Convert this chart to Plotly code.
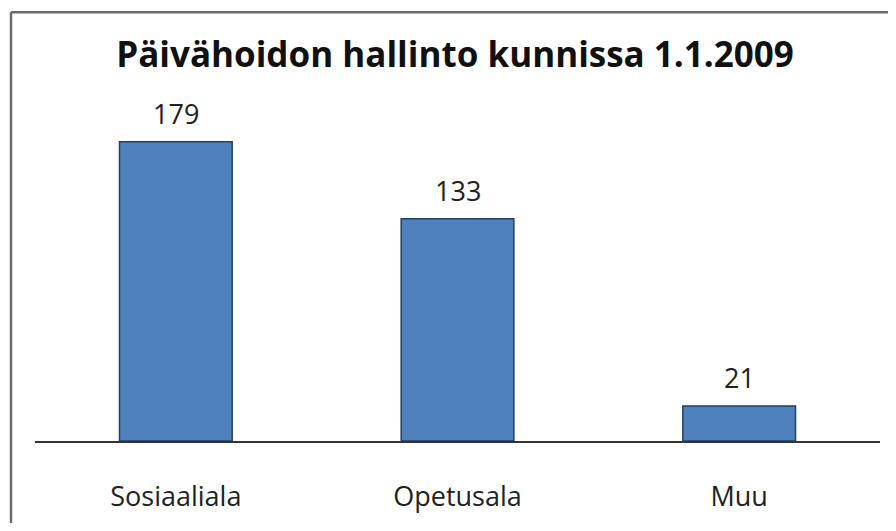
import plotly.graph_objects as go

categories = ["Sosiaaliala", "Opetusala", "Muu"]
values = [179, 133, 21]
title_text = "Päivähoidon hallinto kunnissa 1.1.2009"

FONT = "Open Sans, Lato, sans-serif"

fig = go.Figure(
    go.Bar(
        x=categories,
        y=values,
        marker=dict(color="#4F81BD", line=dict(color="#243F66", width=1.5)),
        hoverinfo="skip",
    )
)

# value labels above each bar
for cat, val in zip(categories, values):
    fig.add_annotation(
        x=cat, y=val, text=str(val), showarrow=False,
        yanchor="bottom", yshift=8,
        font=dict(size=27, color="#222222", family=FONT),
    )

# outer frame: only the left and top edges show inside the image
frame = dict(color="#6b6b6b", width=2.5)
fig.add_shape(type="line", xref="paper", yref="paper",
              x0=-0.0284, x1=-0.0284, y0=-0.35, y1=1.188, line=frame)
fig.add_shape(type="line", xref="paper", yref="paper",
              x0=-0.0284, x1=1.2, y0=1.188, y1=1.188, line=frame)

# page body adds an 8px margin, so the figure is sized to fit the window
fig.update_layout(
    width=880,
    height=515,
    margin=dict(l=27, r=8, t=72, b=82),
    paper_bgcolor="white",
    plot_bgcolor="white",
    bargap=0.6,
    showlegend=False,
    title=dict(
        text="<b>" + title_text + "</b>",
        x=0.508, xanchor="center", y=0.9087, yanchor="middle",
        font=dict(size=35, color="#111111", family=FONT),
    ),
    xaxis=dict(
        showline=True, linecolor="#333333", linewidth=1.5,
        ticks="", showgrid=False, ticklabelstandoff=31,
        tickfont=dict(size=27, color="#222222", family=FONT),
    ),
    yaxis=dict(
        range=[0, 216], visible=False, showgrid=False, zeroline=False,
    ),
)

fig.write_html("out.html")
